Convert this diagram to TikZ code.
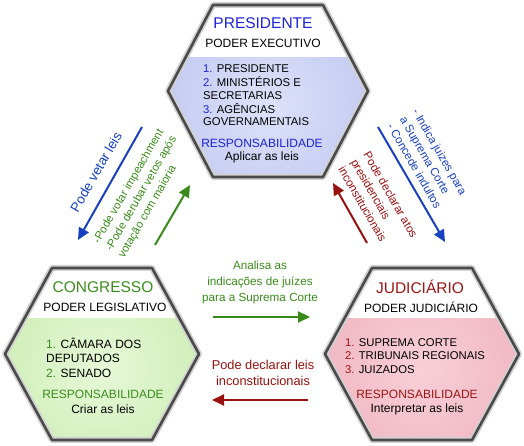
\documentclass[tikz,border=0pt]{standalone}
\usepackage{fontspec}
\setmainfont{Liberation Sans}
\usetikzlibrary{arrows.meta}
\definecolor{tblue}{HTML}{1C22D8}
\definecolor{tgreen}{HTML}{3C8C1E}
\definecolor{tred}{HTML}{9E1414}
\definecolor{ablue}{HTML}{1840C0}
\definecolor{agreen}{HTML}{3A8A1A}
\definecolor{ared}{HTML}{981010}
\definecolor{blueL}{HTML}{DDE1F9}
\definecolor{blueD}{HTML}{C2C9F0}
\definecolor{greenL}{HTML}{E6F8D8}
\definecolor{greenD}{HTML}{CDEDB5}
\definecolor{pinkL}{HTML}{F8D0D8}
\definecolor{pinkD}{HTML}{F0B4C0}
\definecolor{bord}{HTML}{4A4A4A}
\newcommand\hexp[5]{({#1-#3},#2) -- ({#1-#4},{#2+#5}) -- ({#1+#4},{#2+#5}) -- ({#1+#3},#2) -- ({#1+#4},{#2-#5}) -- ({#1-#4},{#2-#5}) -- cycle}
% cx, cy, hw, thw, hh, band, light, dark
\newcommand\myhex[8]{%
  \begin{scope}
    \clip \hexp{#1}{#2}{#3}{#4}{#5};
    \shade[inner color=#7, outer color=#8] (#1,{#2-15}) circle (115);
    \fill[white] ({#1-#3},#6) rectangle ({#1+#3},{#2+#5});
  \end{scope}
  \draw[line width=6pt, black!18, line join=round] \hexp{#1}{#2}{#3}{#4}{#5};
  \draw[line width=2.6pt, bord, line join=round] \hexp{#1}{#2}{#3}{#4}{#5};
}
\tikzset{
  ttl/.style={inner sep=0pt, font=\fontsize{15.5}{18}\selectfont},
  sub/.style={inner sep=0pt, font=\fontsize{12}{14}\selectfont},
  itm/.style={inner sep=0pt, anchor=west, font=\fontsize{12}{14}\selectfont},
  itms/.style={inner sep=0pt, anchor=west, font=\fontsize{11.3}{13}\selectfont},
  arr/.style={line width=2pt, -{Triangle[length=12pt,width=11pt]}},
  lbl/.style={inner sep=0pt, font=\fontsize{11.5}{14.5}\selectfont}
}
\begin{document}
\begin{tikzpicture}[x=1pt,y=1pt]
\useasboundingbox (0,0) rectangle (524,446);
\fill[white] (0,0) rectangle (524,446);
% hexagons
\myhex{268}{355}{100}{55}{86}{389}{blueL}{blueD}
\myhex{102}{92}{97}{50}{86}{128}{greenL}{greenD}
\myhex{422}{92}{97}{50}{86}{128}{pinkL}{pinkD}
% top hexagon texts
\node[ttl, text=tblue] (pt) at (263,423) {PRESIDENTE};
\node[sub] (ps) at (263,403) {PODER EXECUTIVO};
\node[itms] (p1) at (203,377) {\textcolor{tblue}{1.} PRESIDENTE};
\node[itms] (p2) at (203,364) {\textcolor{tblue}{2.} MINISTÉRIOS E};
\node[itms] (p3) at (203,350) {SECRETARIAS};
\node[itms] (p4) at (203,337) {\textcolor{tblue}{3.} AGÊNCIAS};
\node[itms] (p5) at (203,324) {GOVERNAMENTAIS};
\node[sub, text=tblue] (pr) at (262,303) {RESPONSABILIDADE};
\node[sub] (pa) at (262,289) {Aplicar as leis};
% left hexagon texts
\node[ttl, text=tgreen] (ct) at (103,159) {CONGRESSO};
\node[sub] (cs) at (105,139) {PODER LEGISLATIVO};
\node[itm] (c1) at (46,103) {\textcolor{tgreen}{1.} CÂMARA DOS};
\node[itm] (c2) at (46,88) {DEPUTADOS};
\node[itm] (c3) at (46,73) {\textcolor{tgreen}{2.} SENADO};
\node[sub, text=tgreen] (cr) at (103,52) {RESPONSABILIDADE};
\node[sub] (ca) at (103,37) {Criar as leis};
% right hexagon texts
\node[ttl, text=tred] (jt) at (420,159) {JUDICIÁRIO};
\node[sub] (js) at (421,139) {PODER JUDICIÁRIO};
\node[itms] (j1) at (345,103) {\textcolor{tred}{1.} SUPREMA CORTE};
\node[itms] (j2) at (345,90) {\textcolor{tred}{2.} TRIBUNAIS REGIONAIS};
\node[itms] (j3) at (345,76) {\textcolor{tred}{3.} JUIZADOS};
\node[sub, text=tred] (jr) at (417,52) {RESPONSABILIDADE};
\node[sub] (ja) at (417,37) {Interpretar as leis};
% arrow end points
\coordinate (b1s) at (142,319); \coordinate (b1e) at (78,206);
\coordinate (g1s) at (155,201); \coordinate (g1e) at (190,261);
\coordinate (b2s) at (378,319); \coordinate (b2e) at (445,204);
\coordinate (r1s) at (367,203); \coordinate (r1e) at (333,263);
\coordinate (g2s) at (213,129); \coordinate (g2e) at (310,129);
\coordinate (r2s) at (308,46);  \coordinate (r2e) at (212,46);
\draw[arr, ablue] (b1s) -- (b1e);
\draw[arr, agreen] (g1s) -- (g1e);
\draw[arr, ablue] (b2s) -- (b2e);
\draw[arr, ared] (r1s) -- (r1e);
\draw[arr, agreen] (g2s) -- (g2e);
\draw[arr, ared] (r2s) -- (r2e);
% arrow labels
\node[inner sep=0pt, text=ablue, rotate=60, font=\fontsize{13.5}{16}\selectfont] (lb1) at (96,274) {Pode vetar leis};
\node[lbl, text=agreen, rotate=60, anchor=west, align=left, font=\fontsize{11.3}{14.5}\selectfont] (lg1) at (109,196)
  {-Pode votar impeachment\\-Pode derubar vetos após\\votação com maioria};
\node[lbl, text=ablue, rotate=-60, anchor=west, align=left] (lb2) at (403,329)
  {- Indica juizes para\\a Suprema Corte\\- Concede indultos};
\node[lbl, text=ared, rotate=-60, anchor=west, align=left] (lr1) at (354,286)
  {Pode declarar atos\\presidenciais\\inconstitucionais};
\node[lbl, text=agreen, align=center, font=\fontsize{11.7}{16}\selectfont] (lg2) at (260,164)
  {Analisa as\\indicações de juízes\\para a Suprema Corte};
\node[lbl, text=ared, align=center, font=\fontsize{12.8}{16}\selectfont] (lr2) at (263,73)
  {Pode declarar leis\\inconstitucionais};
\end{tikzpicture}
\end{document}
